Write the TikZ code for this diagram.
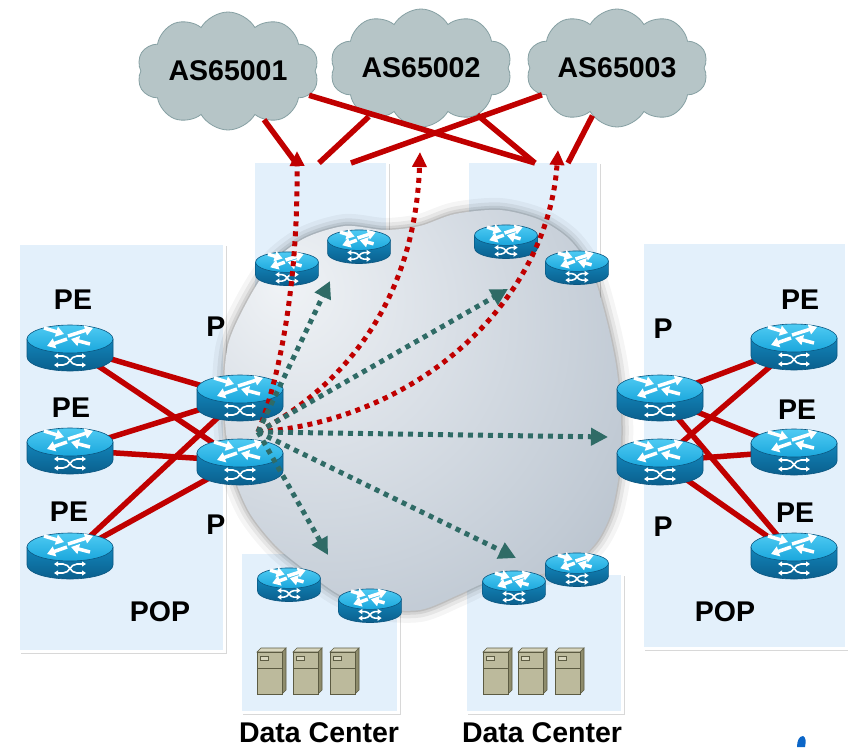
\documentclass[tikz,border=0pt]{standalone}
\usepackage{fontspec}
\setmainfont{Liberation Sans}
\usetikzlibrary{arrows.meta,shapes.symbols,shadows}

\definecolor{boxblue}{HTML}{E3F0FB}
\definecolor{linkred}{HTML}{C00000}
\definecolor{pathteal}{HTML}{2F6B66}
\definecolor{asfill}{HTML}{B6C5C7}
\definecolor{asline}{HTML}{86A0A3}
\definecolor{rttopA}{HTML}{4FCBF3}
\definecolor{rttopB}{HTML}{1AA6DC}
\definecolor{rtsideA}{HTML}{1285BA}
\definecolor{rtsideB}{HTML}{0A5F8D}
\definecolor{rtline}{HTML}{0B5680}
\definecolor{srvfront}{HTML}{BCBA9C}
\definecolor{srvside}{HTML}{8E8C6C}
\definecolor{srvtop}{HTML}{D8D6BE}
\definecolor{srvline}{HTML}{5C5B42}
\definecolor{logoblue}{HTML}{0B66C8}
\definecolor{clA}{HTML}{F0F3F6}
\definecolor{clB}{HTML}{D9DFE6}
\definecolor{clC}{HTML}{C2CBD5}
\definecolor{clD}{HTML}{ACB7C3}
\definecolor{clE}{HTML}{97A3B0}
\definecolor{clF}{HTML}{86929F}

\pgfdeclareradialshading{corecloud}{\pgfpoint{-18bp}{16bp}}{%
  color(0bp)=(clA); color(18bp)=(clB); color(36bp)=(clC);
  color(52bp)=(clD); color(66bp)=(clE); color(85bp)=(clF)}

\newcommand\lblfont{\fontsize{28.5}{30}\selectfont\bfseries}

\tikzset{
  lbl/.style={font=\lblfont, inner sep=0},
  ascloud/.style={cloud, cloud puffs=10, cloud puff arc=120, cloud ignores aspect,
    draw=asline, fill=asfill, line width=.8pt, minimum width=182pt,
    minimum height=118pt, inner sep=0, font=\lblfont},
  region/.style={draw=white, line width=3pt, fill=boxblue,
    drop shadow={opacity=.3, shadow xshift=2.5pt, shadow yshift=-2.5pt}},
  rtr/.style={inner sep=0, minimum width=86pt, minimum height=47pt},
  rtrsmall/.style={inner sep=0, minimum width=63pt, minimum height=35pt},
  link/.style={draw=linkred, line width=5.5pt},
  redpath/.style={draw=linkred, line width=5pt, dash pattern=on 5pt off 5pt,
    -{Triangle[length=15pt,width=14pt]}},
  tealpath/.style={draw=pathteal, line width=5pt, dash pattern=on 5pt off 5pt,
    -{Triangle[length=17pt,width=17pt]}},
  rtarrow/.style={white, line width=3.5pt, -{Triangle[length=8pt,width=10pt]}},
  rtcross/.style={white, line width=1.6pt,
    {Triangle[length=4pt,width=5pt]}-{Triangle[length=4pt,width=5pt]}},
  routericon/.pic={
    % body and lid
    \shade[top color=rtsideA, bottom color=rtsideB, draw=rtline, line width=.6pt]
      (-43,-8) -- (-43,10) arc[start angle=180, end angle=0, x radius=43, y radius=14]
      -- (43,-8) -- cycle;
    \shade[top color=rttopA, bottom color=rttopB, draw=rtline, line width=.6pt]
      (0,-8) ellipse[x radius=43, y radius=14];
    % arrows on the lid
    \draw[rtarrow] (-26,-19) -- (-6,-13);
    \draw[rtarrow] (20,-3) -- (1,-8);
    \draw[rtarrow] (-2,-11) -- (23,-19);
    \draw[rtarrow] (-3,-8) -- (-23,-1);
    % crossed arrows on the side
    \draw[rtcross] (-16,9) -- (-7,9) .. controls (0,9) and (0,18) .. (7,18) -- (16,18);
    \draw[rtcross] (-16,18) -- (-7,18) .. controls (0,18) and (0,9) .. (7,9) -- (16,9);
  },
  servericon/.pic={
    \filldraw[srvside, draw=srvline, line width=.6pt] (25,0) -- (29,-4) -- (29,38) -- (25,42) -- cycle;
    \filldraw[srvtop, draw=srvline, line width=.6pt] (0,0) -- (4,-4) -- (29,-4) -- (25,0) -- cycle;
    \filldraw[srvfront, draw=srvline, line width=.6pt] (0,0) rectangle (25,42);
    \draw[srvline, line width=.6pt] (0,16) -- (25,16);
    \filldraw[srvtop, draw=srvline, line width=.5pt] (3,4) rectangle (11,8);
  }
}

\begin{document}
\begin{tikzpicture}[x=1pt, y=-1pt]
  \useasboundingbox (0,0) rectangle (848,747);
  \fill[white] (0,0) rectangle (848,747);

  % POPs, edge sites and data centers
  \draw[region] (18,243) rectangle (224,651);
  \draw[region] (642,242) rectangle (846,648);
  \draw[region] (253,161) rectangle (387,300);
  \draw[region] (467,161) rectangle (598,300);
  \draw[region] (240,552) rectangle (398,712);
  \draw[region] (465,573) rectangle (622,712);

  % backbone cloud
  \shade[preaction={draw=black, opacity=.04, line width=24pt, line join=round},
         preaction={draw=black, opacity=.06, line width=15pt, line join=round},
         preaction={draw=black, opacity=.08, line width=8pt, line join=round},
         preaction={draw=black, opacity=.10, line width=3pt, line join=round},
         shading=corecloud]
    plot[smooth cycle] coordinates {(224,400) (228,345) (248,300) (273,262) (305,238)
      (345,226) (385,230) (420,226) (455,214) (500,210) (540,220) (570,240) (592,272)
      (606,318) (616,365) (621,415) (620,465) (612,510) (598,540) (578,560) (550,572)
      (518,578) (485,583) (458,595) (420,610) (375,608) (338,594) (305,570) (275,545)
      (248,510) (230,462)};

  % upstream ASes
  \node[ascloud] (as1) at (228,71) {AS65001};
  \node[ascloud] (as2) at (421,68) {AS65002};
  \node[ascloud] (as3) at (617,68) {AS65003};

  \coordinate (tl1) at (296,163);
  \coordinate (tl2) at (319,163);
  \coordinate (tl3) at (351,163);
  \coordinate (tr1) at (535,163);
  \coordinate (tr2) at (568,163);
  \draw[link] (as1) -- (tl1);
  \draw[link] (as1) -- (tr1);
  \draw[link] (as2) -- (tl2);
  \draw[link] (as2) -- (tr1);
  \draw[link] (as3) -- (tl3);
  \draw[link] (as3) -- (tr2);

  % routers
  \foreach \n/\x/\y in {pe1/70/347, pe2/70/450, pe3/70/555, p1/240/397, p2/240/461,
      p3/660/397, p4/660/461, pe4/794/346, pe5/794/451, pe6/794/555}
    \node[rtr] (\n) at (\x,\y) {};
  \foreach \n/\x/\y in {ra/287/268, rb/359/246, rc/506/241, rd/577/267,
      re/289/584, rf/370/605, rh/577/569, rg/514/587}
    \node[rtrsmall] (\n) at (\x,\y) {};

  \foreach \a in {pe1,pe2,pe3}
    \foreach \b in {p1,p2}
      \draw[link] (\a.center) -- (\b.center);
  \foreach \a in {p3,p4}
    \foreach \b in {pe4,pe5,pe6}
      \draw[link] (\a.center) -- (\b.center);

  \foreach \n in {pe1,pe2,pe3,p1,p2,p3,p4,pe4,pe5,pe6}
    \pic at (\n) {routericon};
  \foreach \n in {ra,rb,rc,rd,re,rf,rh,rg}
    \pic[scale=.73] at (\n) {routericon};

  % servers
  \foreach \x in {257,293,330,483,518,555}
    \pic at (\x,652) {servericon};

  % labels
  \node[lbl] (pel1) at (73,300) {PE};
  \node[lbl] (pel2) at (71,408) {PE};
  \node[lbl] (pel3) at (69,512) {PE};
  \node[lbl] (pl1) at (216,327) {P};
  \node[lbl] (pl2) at (216,525) {P};
  \node[lbl] (popl) at (160,612) {POP};
  \node[lbl] (per1) at (800,300) {PE};
  \node[lbl] (per2) at (797,410) {PE};
  \node[lbl] (per3) at (795,513) {PE};
  \node[lbl] (pr1) at (663,329) {P};
  \node[lbl] (pr2) at (663,527) {P};
  \node[lbl] (popr) at (725,612) {POP};
  \node[lbl, anchor=base] (dcl) at (319,742) {Data Center};
  \node[lbl, anchor=base] (dcr) at (542,742) {Data Center};

  % paths out of the POP
  \coordinate (hub) at (258,432);
  \coordinate (up1) at (297,151);
  \coordinate (up2) at (420,152);
  \coordinate (up3) at (558,150);
  \draw[redpath] (hub) .. controls (275,390) and (298,300) .. (up1);
  \draw[redpath] (hub) .. controls (345,385) and (415,300) .. (up2);
  \draw[redpath] (hub) .. controls (420,420) and (548,300) .. (up3);

  \coordinate (tA) at (330,281);
  \coordinate (tB) at (508,289);
  \coordinate (tC) at (608,437);
  \coordinate (tD) at (328,555);
  \coordinate (tE) at (516,558);
  \foreach \t in {tA,tB,tC,tD,tE}
    \draw[tealpath] (hub) -- (\t);

  \fill[logoblue] (797,747) .. controls (797,741) and (799,736) .. (803,736)
    .. controls (806,737) and (806,742) .. (805,747) -- cycle;
\end{tikzpicture}
\end{document}
